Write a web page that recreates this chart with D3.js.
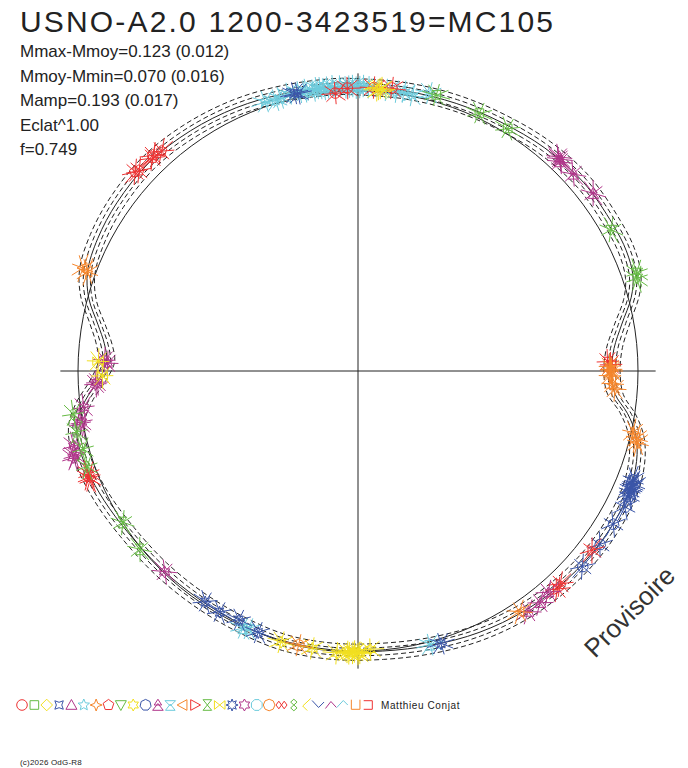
<!DOCTYPE html>
<html>
<head>
<meta charset="utf-8">
<title>USNO-A2.0 1200-3423519=MC105</title>
<script src="https://cdn.jsdelivr.net/npm/d3@7"></script>
<style>
  body { margin: 0; background: #fff; }
  svg { display: block; }
</style>
</head>
<body>
<script>
// ---- data ----

// fitted light curve: phase (0..1, clockwise from top) and radius relative to the reference circle
var curvePhase = [0.000, 0.028, 0.056, 0.083, 0.111, 0.139, 0.167, 0.183, 0.197, 0.208, 0.222, 0.236,
  0.250, 0.264, 0.275, 0.286, 0.300, 0.319, 0.347, 0.375, 0.403, 0.431, 0.458, 0.486, 0.514, 0.542,
  0.569, 0.597, 0.625, 0.653, 0.675, 0.694, 0.711, 0.722, 0.733, 0.744, 0.756, 0.767, 0.778, 0.792,
  0.806, 0.825, 0.847, 0.875, 0.903, 0.931, 0.958, 0.986];
var curveRadius = [1.014, 1.014, 1.018, 1.025, 1.039, 1.050, 1.050, 1.050, 1.039, 1.011, 0.957, 0.918,
  0.906, 0.921, 0.975, 1.018, 1.046, 1.061, 1.061, 1.054, 1.043, 1.029, 1.014, 1.004, 1.004, 1.004,
  0.996, 0.993, 0.996, 1.004, 1.018, 1.029, 1.032, 1.018, 0.979, 0.929, 0.898, 0.911, 0.943, 0.996,
  1.029, 1.043, 1.050, 1.054, 1.046, 1.036, 1.025, 1.018];

// envelope curves (dashed), as radius offsets from the fit
var envelopeOffsets = [-0.028, -0.013, 0.014, 0.030];

// observations: session index (= legend symbol), phase, relative radius
var obsSession = [5, 5, 5, 5, 5, 5, 5, 5, 5, 5, 5, 5, 5, 5, 5, 5, 5, 5, 5, 5, 5, 5, 5, 5, 5, 5,
  0, 0, 0, 0, 2, 2, 2, 3, 3, 1, 1, 1, 11, 11, 11, 11, 11, 8, 8, 8, 28, 28,
  6, 6, 6, 6, 6, 6, 6, 6, 6, 10, 10, 10, 10, 10, 10, 10, 10, 10, 10, 10, 14, 14, 14, 4, 4, 4,
  13, 13, 13, 12, 12, 12, 17, 17, 17, 17, 17, 9, 9, 9, 9, 9, 9, 9, 9, 9, 9, 20,
  18, 18, 18, 18, 18, 18, 18, 18, 18, 18, 18, 15, 15, 21, 21, 21, 22, 22, 22, 22, 16, 16, 7, 7, 7, 7, 7];
var obsPhase = [0.947, 0.953, 0.956, 0.961, 0.967, 0.971, 0.975, 0.977, 0.981, 0.983, 0.986, 0.990,
  0.993, 0.997, 0.001, 0.003, 0.006, 0.016, 0.022, 0.026, 0.031, 0.040, 0.970, 0.979, 0.995, 0.999,
  0.987, 0.994, 0.009, 0.019, 0.011, 0.013, 0.012, 0.966, 0.964, 0.044, 0.070, 0.088,
  0.120, 0.122, 0.132, 0.147, 0.121,
  0.169, 0.196, 0.199, 0.244, 0.246,
  0.247, 0.250, 0.253, 0.258, 0.261, 0.285, 0.290, 0.249, 0.288,
  0.310, 0.313, 0.314, 0.317, 0.319, 0.325, 0.336, 0.349, 0.364, 0.312, 0.315,
  0.354, 0.379, 0.382, 0.387, 0.394, 0.402,
  0.406, 0.806, 0.807, 0.459, 0.564, 0.567, 0.453, 0.558, 0.571, 0.583, 0.593,
  0.493, 0.499, 0.503, 0.506, 0.512, 0.526, 0.544, 0.500, 0.502, 0.505, 0.534,
  0.622, 0.703, 0.709, 0.721, 0.729, 0.743, 0.755, 0.757, 0.704, 0.742, 0.720,
  0.641, 0.659, 0.689, 0.692, 0.690, 0.696, 0.706, 0.716, 0.726, 0.747, 0.756,
  0.866, 0.868, 0.878, 0.884, 0.879];
var obsRadius = [1.018, 1.011, 1.014, 1.021, 1.018, 1.021, 1.014, 1.021, 1.014, 1.018, 1.021, 1.018,
  1.014, 1.018, 1.014, 1.018, 1.014, 1.009, 1.007, 1.011, 1.004, 1.025, 1.016, 1.019, 1.016, 1.012,
  0.996, 1.011, 1.014, 1.018, 1.005, 1.014, 1.010, 1.014, 1.018, 1.025, 1.018, 1.018,
  1.050, 1.039, 1.043, 1.054, 1.046,
  1.036, 1.057, 1.050, 0.893, 0.904,
  0.900, 0.907, 0.900, 0.911, 0.921, 1.007, 1.032, 0.904, 1.025,
  1.057, 1.064, 1.063, 1.061, 1.068, 1.071, 1.064, 1.064, 1.064, 1.068, 1.059,
  1.054, 1.050, 1.057, 1.043, 1.054, 1.054,
  1.036, 1.029, 1.050, 1.011, 1.000, 1.007, 1.018, 1.000, 0.986, 0.993, 0.989,
  0.996, 1.007, 1.007, 1.004, 1.011, 1.004, 1.007, 1.011, 1.002, 1.009, 1.002,
  0.996, 1.064, 1.050, 1.004, 0.989, 0.932, 0.896, 0.907, 1.057, 0.939, 1.011,
  1.007, 1.000, 1.032, 1.029, 1.036, 1.027, 1.021, 1.029, 1.029, 0.914, 0.929,
  1.068, 1.061, 1.057, 1.054, 1.064];

var sessionColors = ["#ee3333", "#66bb44", "#f2e020", "#3a55a8", "#b0358a", "#6ccbdc", "#f5862c"];
var legendCount = 29;

var title = "USNO-A2.0 1200-3423519=MC105";
var statLines = ["Mmax-Mmoy=0.123 (0.012)", "Mmoy-Mmin=0.070 (0.016)", "Mamp=0.193 (0.017)",
  "Eclat^1.00", "f=0.749"];

// ---- layout ----
var w = 688;
var h = 768;
var cx = 358, cy = 371;
var R = 280;
var errRadius = 0.04;   // half length of radial bars
var errPhase = 0.008;   // half length of phase bars
var font = "Arial, 'Liberation Sans', Helvetica, sans-serif";

var angle = d3.scaleLinear().domain([0, 1]).range([0, 2 * Math.PI]);
var radius = d3.scaleLinear().domain([0, 1]).range([0, R]);

var svg = d3.select("body")
  .append("svg")
  .attr("width", w)
  .attr("height", h);

// ---- symbols ----
function polyPts(n, r, rot) {
  var pts = [];
  for (var i = 0; i < n; i++) {
    var a = rot + i * 2 * Math.PI / n;
    pts.push([r * Math.sin(a), -r * Math.cos(a)]);
  }
  return pts;
}
function starPts(n, ro, ri, rot) {
  var pts = [];
  for (var i = 0; i < 2 * n; i++) {
    var a = rot + i * Math.PI / n;
    var r = i % 2 ? ri : ro;
    pts.push([r * Math.sin(a), -r * Math.cos(a)]);
  }
  return pts;
}
function closed(pts) {
  return "M" + pts.map(function(p) { return p[0].toFixed(2) + "," + p[1].toFixed(2); }).join("L") + "Z";
}
function open(pts) {
  return "M" + pts.map(function(p) { return p[0] + "," + p[1]; }).join("L");
}

function symbolPath(i) {
  var s = 5.3;
  switch (i) {
    case 0: return "M" + s + ",0A" + s + "," + s + " 0 1,1 " + (-s) + ",0A" + s + "," + s + " 0 1,1 " + s + ",0Z";
    case 1: return closed([[-4.3, -4.3], [4.3, -4.3], [4.3, 4.3], [-4.3, 4.3]]);
    case 2: return closed(polyPts(4, 5.8, 0));
    case 3: return closed(starPts(4, 6, 2.7, Math.PI / 4));
    case 4: return closed([[0, -5.5], [5.5, 4.3], [-5.5, 4.3]]);
    case 5: return closed(starPts(5, 6, 2.7, 0));
    case 6: return closed(starPts(4, 6, 2.3, 0));
    case 7: return closed(polyPts(5, 5.6, 0));
    case 8: return closed([[-5.5, -4.3], [5.5, -4.3], [0, 5.5]]);
    case 9: return closed(starPts(6, 6, 3.3, 0));
    case 10: return closed(polyPts(7, 5.6, 0));
    case 11: return closed([[0, -5.8], [3.7, 0], [-3.7, 0]]) + closed([[0, -1.5], [5.3, 5.3], [-5.3, 5.3]]);
    case 12: return closed([[-5.3, -4.3], [5.3, -4.3], [0, 1]]) + closed([[0, -1], [4.8, 5.3], [-4.8, 5.3]]);
    case 13: return closed([[-5.5, 0], [4.3, -5.3], [4.3, 5.3]]);
    case 14: return closed([[5.5, 0], [-4.3, -5.3], [-4.3, 5.3]]);
    case 15: return closed([[-4.3, -5.3], [4.3, -5.3], [-4.3, 5.3], [4.3, 5.3]]);
    case 16: return closed([[-5.3, -4.3], [-5.3, 4.3], [5.3, -4.3], [5.3, 4.3]]);
    case 17: return closed(starPts(8, 6, 3.1, 0));
    case 18: return closed(starPts(6, 6, 3.45, 0));
    case 19: return closed(polyPts(8, 5.8, Math.PI / 8));
    case 20: return closed(polyPts(8, 5.8, 0));
    case 21: return closed([[-5.5, 0], [-2.7, -3.8], [0, 0], [-2.7, 3.8]]) + closed([[0, 0], [2.7, -3.8], [5.5, 0], [2.7, 3.8]]);
    case 22: return closed([[0, -5.8], [3.2, -2.9], [0, 0], [-3.2, -2.9]]) + closed([[0, 0], [3.2, 2.9], [0, 5.8], [-3.2, 2.9]]);
    case 23: return open([[4.5, -6.5], [-3.5, 1], [1, 5.5]]);
    case 24: return open([[-6.5, -4.5], [0, 2.5], [5.5, -3]]);
    case 25: return open([[-5.5, 3.5], [0, -3.5], [5.5, 2.5]]);
    case 26: return open([[-6.5, 2.5], [0, -4.5], [4.5, 0]]);
    case 27: return open([[-4.3, -5.3], [-4.3, 4.3], [4.3, 4.3], [4.3, -5.3]]);
    default: return open([[-4.3, -4.3], [4.3, -4.3], [4.3, 4.3], [-4.3, 4.3]]);
  }
}
function colorOf(i) { return sessionColors[i % sessionColors.length]; }

// ---- texts ----
svg.append("text")
  .attr("x", 20)
  .attr("y", 32)
  .attr("font-family", font)
  .attr("font-size", "30px")
  .attr("textLength", 533)
  .attr("lengthAdjust", "spacing")
  .attr("fill", "#222")
  .text(title);

svg.selectAll("text.stat")
  .data(statLines)
  .enter()
  .append("text")
  .attr("class", "stat")
  .attr("x", 20)
  .attr("y", function(d, i) { return 57 + i * 24.5; })
  .attr("font-family", font)
  .attr("font-size", "17px")
  .attr("fill", "#222")
  .text(function(d) { return d; });

// ---- polar plot ----
var g = svg.append("g").attr("transform", "translate(" + cx + "," + cy + ")");

// axes
var axisR = radius(1.063);
g.append("line").attr("x1", -axisR).attr("x2", axisR).attr("y1", 0).attr("y2", 0)
  .attr("stroke", "#222").attr("stroke-width", 1);
g.append("line").attr("x1", 0).attr("x2", 0).attr("y1", -axisR).attr("y2", axisR)
  .attr("stroke", "#222").attr("stroke-width", 1);

// reference circle
g.append("circle")
  .attr("r", radius(1))
  .attr("fill", "none")
  .attr("stroke", "#222")
  .attr("stroke-width", 1);

var curveData = curvePhase.map(function(p, i) { return { p: p, v: curveRadius[i] }; });

envelopeOffsets.forEach(function(off) {
  var env = d3.lineRadial()
    .angle(function(d) { return angle(d.p); })
    .radius(function(d) { return radius(d.v + off); })
    .curve(d3.curveCatmullRomClosed);
  g.append("path")
    .attr("d", env(curveData))
    .attr("fill", "none")
    .attr("stroke", "#222")
    .attr("stroke-width", 1)
    .attr("stroke-dasharray", "5,3");
});

var fit = d3.lineRadial()
  .angle(function(d) { return angle(d.p); })
  .radius(function(d) { return radius(d.v); })
  .curve(d3.curveCatmullRomClosed);
g.append("path")
  .attr("d", fit(curveData))
  .attr("fill", "none")
  .attr("stroke", "#222")
  .attr("stroke-width", 1);

// observations
var obs = obsPhase.map(function(p, i) { return { s: obsSession[i], p: p, v: obsRadius[i] }; });

var obsG = g.selectAll("g.obs")
  .data(obs)
  .enter()
  .append("g")
  .attr("class", "obs")
  .attr("stroke", function(d) { return colorOf(d.s); })
  .attr("stroke-width", 1)
  .attr("fill", "none");

// error bars: radial, along phase, and the two diagonals
var bars = [[0, 1], [1, 0], [0.7, 0.7], [0.7, -0.7]];
bars.forEach(function(b) {
  function end(d, sign) {
    return d3.pointRadial(angle(d.p + sign * b[0] * errPhase), radius(d.v + sign * b[1] * errRadius));
  }
  obsG.append("line")
    .attr("x1", function(d) { return end(d, -1)[0]; })
    .attr("y1", function(d) { return end(d, -1)[1]; })
    .attr("x2", function(d) { return end(d, 1)[0]; })
    .attr("y2", function(d) { return end(d, 1)[1]; });
});

obsG.append("path")
  .attr("transform", function(d) {
    var pt = d3.pointRadial(angle(d.p), radius(d.v));
    return "translate(" + pt[0] + "," + pt[1] + ")";
  })
  .attr("d", function(d) { return symbolPath(d.s); });

// ---- legend ----
var legendX = d3.scaleLinear().domain([0, legendCount - 1]).range([22, 368]);
svg.selectAll("path.legend")
  .data(d3.range(legendCount))
  .enter()
  .append("path")
  .attr("class", "legend")
  .attr("transform", function(d) { return "translate(" + legendX(d) + ",705)"; })
  .attr("d", function(d) { return symbolPath(d); })
  .attr("fill", "none")
  .attr("stroke", function(d) { return colorOf(d); })
  .attr("stroke-width", 1);

svg.append("text")
  .attr("x", 381)
  .attr("y", 708.5)
  .attr("font-family", font)
  .attr("font-size", "10px")
  .attr("letter-spacing", "0.6px")
  .attr("fill", "#222")
  .text("Matthieu Conjat");

svg.append("text")
  .attr("x", 20)
  .attr("y", 765)
  .attr("font-family", font)
  .attr("font-size", "8px")
  .attr("letter-spacing", "0.2px")
  .attr("fill", "#222")
  .text("(c)2026 OdG-R8");

svg.append("text")
  .attr("transform", "translate(595,659) rotate(-45)")
  .attr("font-family", font)
  .attr("font-size", "26px")
  .attr("fill", "#333")
  .text("Provisoire");
</script>
</body>
</html>
